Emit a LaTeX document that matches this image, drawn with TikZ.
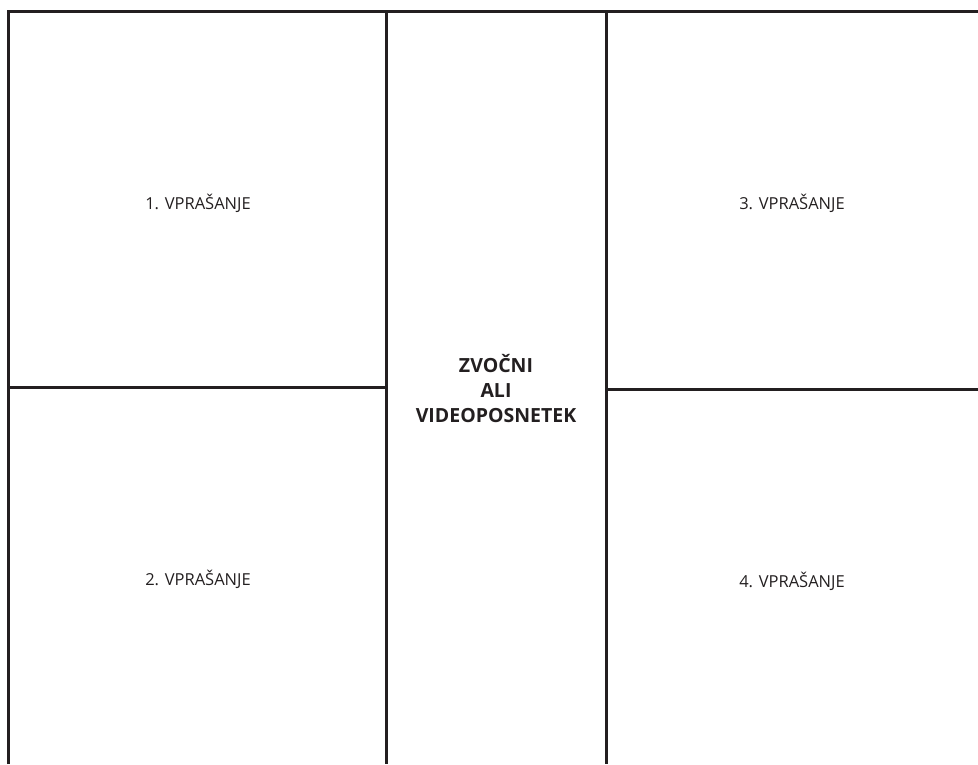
\documentclass[tikz,border=0pt]{standalone}
\usepackage{fontspec}
\setmainfont{Open Sans}
\definecolor{ink}{HTML}{231F20}
\tikzset{
  wall/.style={line width=3pt, draw=ink, line join=miter},
  qlabel/.style={font=\fontsize{16.5}{20}\selectfont, text=ink},
  mlabel/.style={font=\fontsize{19.5}{25}\selectfont\bfseries, text=ink, align=center}
}
\begin{document}
\begin{tikzpicture}[x=1pt,y=-1pt]
  \useasboundingbox (0,0) rectangle (978,764);
  % outer frame and columns
  \draw[wall] (8.5,764) -- (8.5,11.5) -- (978,11.5);
  \foreach \x in {386.5,606} \draw[wall] (\x,11.5) -- (\x,764);
  \draw[wall] (8.5,387) -- (386.5,387);
  \draw[wall] (606,389) -- (978,389);
  % texts
  \node[qlabel] (q1) at (198,203) {1. VPRAŠANJE};
  \node[qlabel] (q2) at (198,579) {2. VPRAŠANJE};
  \node[qlabel] (q3) at (792,203) {3. VPRAŠANJE};
  \node[qlabel] (q4) at (792,581) {4. VPRAŠANJE};
  \node[mlabel] (media) at (496,389) {ZVOČNI\\ALI\\VIDEOPOSNETEK};
\end{tikzpicture}
\end{document}
